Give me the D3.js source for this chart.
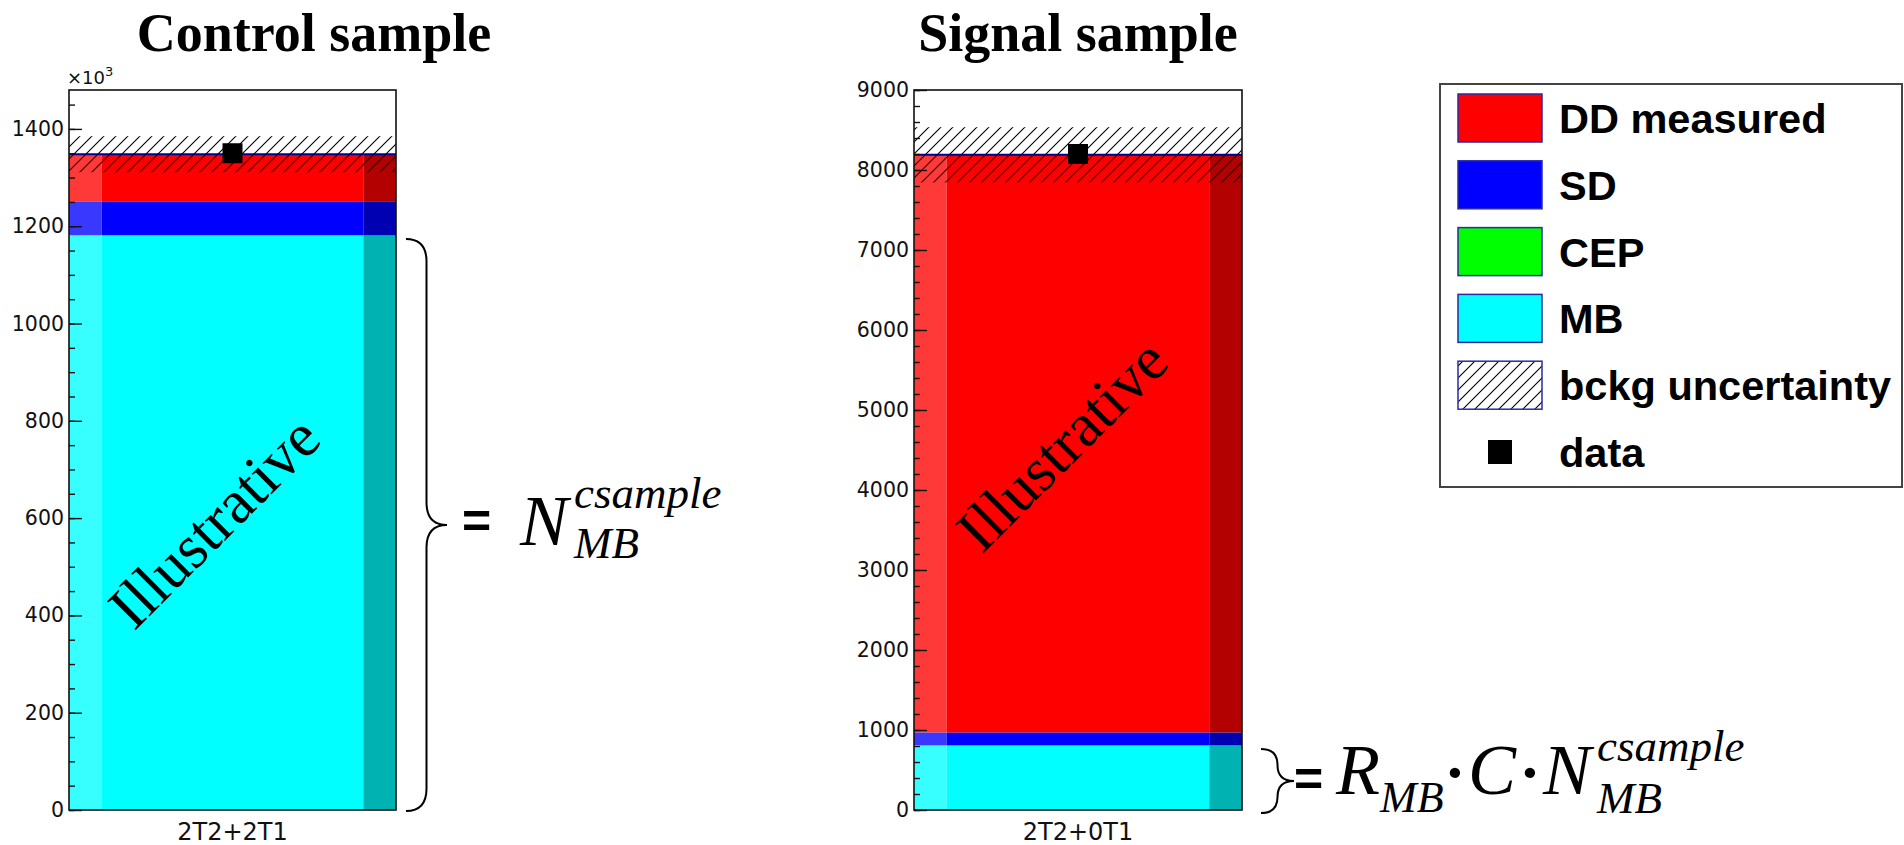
<!DOCTYPE html>
<html>
<head>
<meta charset="utf-8">
<script src="https://cdn.jsdelivr.net/npm/d3@7"></script>
<style>
  body { margin: 0; background: #fff; }
  svg { display: block; }
</style>
</head>
<body>
<div id="chart"></div>
<script>
// ---- data ----
const panelTitles = ["Control sample", "Signal sample"];
const categories = ["2T2+2T1", "2T2+0T1"];
// stacked components (control panel in units of 10^3)
const mbValues = [1180, 800];
const cepValues = [2, 10];
const sdValues = [68, 160];
const ddValues = [98, 7220];
const dataValues = [1350, 8200];
const bkgErrValues = [37, 345];
const yMaxValues = [1480, 9000];
const controlTicks = [0, 200, 400, 600, 800, 1000, 1200, 1400];
const signalTicks = [0, 1000, 2000, 3000, 4000, 5000, 6000, 7000, 8000, 9000];
const minorSteps = [50, 200];
const legendLabels = ["DD measured", "SD", "CEP", "MB", "bckg uncertainty", "data"];
const stackKeys = ["MB", "CEP", "SD", "DD"];
const stackColors = {MB: "#00ffff", CEP: "#00ff00", SD: "#0000ff", DD: "#ff0000"};

const W = 1904, H = 845;
const svg = d3.select("#chart").append("svg")
    .attr("width", W)
    .attr("height", H);
svg.append("rect").attr("width", W).attr("height", H).attr("fill", "#fff");

// hatch pattern
const defs = svg.append("defs");
const pat = defs.append("pattern")
    .attr("id", "hatch")
    .attr("patternUnits", "userSpaceOnUse")
    .attr("width", 12).attr("height", 12);
pat.append("path")
    .attr("d", "M-3,3 L3,-3 M0,12 L12,0 M9,15 L15,9")
    .attr("stroke", "#000")
    .attr("stroke-width", 1.1);

// layout of the two frames
const frames = [
    {left: 69, right: 396, top: 90, bottom: 810, titleX: 314, ticks: controlTicks},
    {left: 914, right: 1242, top: 90, bottom: 810, titleX: 1078, ticks: signalTicks}
];
const illustrativePos = [[214, 522], [1062, 445]];

function lighter(c) { return d3.interpolateRgb(c, "#fff")(0.22); }
function darker(c) { return d3.rgb(c).darker(1).formatHex(); }

const yScales = [];

frames.forEach((f, i) => {
    const g = svg.append("g");
    const y = d3.scaleLinear().domain([0, yMaxValues[i]]).range([f.bottom, f.top]);
    const x = d3.scaleBand().domain([categories[i]]).range([f.left, f.right]).padding(0);
    yScales.push(y);

    const row = {MB: mbValues[i], CEP: cepValues[i], SD: sdValues[i], DD: ddValues[i]};
    const series = d3.stack().keys(stackKeys)([row]);
    const bw = x.bandwidth();
    const x0 = x(categories[i]);

    series.forEach(s => {
        const d = s[0];
        const c = stackColors[s.key];
        const yt = y(d[1]), yb = y(d[0]);
        // ROOT style bar: light left strip, plain body, dark right strip
        g.append("rect").attr("x", x0).attr("y", yt).attr("width", bw * 0.1).attr("height", yb - yt)
            .attr("fill", lighter(c));
        g.append("rect").attr("x", x0 + bw * 0.1).attr("y", yt).attr("width", bw * 0.8).attr("height", yb - yt)
            .attr("fill", c);
        g.append("rect").attr("x", x0 + bw * 0.9).attr("y", yt).attr("width", bw * 0.1).attr("height", yb - yt)
            .attr("fill", darker(c));
    });

    const total = mbValues[i] + cepValues[i] + sdValues[i] + ddValues[i];
    // stack top line
    g.append("line")
        .attr("x1", x0).attr("x2", x0 + bw)
        .attr("y1", y(total)).attr("y2", y(total))
        .attr("stroke", "#000099").attr("stroke-width", 2);

    // background uncertainty band
    g.append("rect")
        .attr("x", x0).attr("width", bw)
        .attr("y", y(total + bkgErrValues[i]))
        .attr("height", y(total - bkgErrValues[i]) - y(total + bkgErrValues[i]))
        .attr("fill", "url(#hatch)");

    // data point
    const ms = 20;
    g.append("rect")
        .attr("x", x0 + bw / 2 - ms / 2)
        .attr("y", y(dataValues[i]) - ms / 2)
        .attr("width", ms).attr("height", ms)
        .attr("fill", "#000");

    // Illustrative watermark
    g.append("text")
        .attr("transform", "translate(" + illustrativePos[i][0] + "," + illustrativePos[i][1] + ") rotate(-45)")
        .attr("text-anchor", "middle")
        .attr("y", 21)
        .attr("font-family", "'Liberation Serif', 'Times New Roman', serif")
        .attr("font-size", 62)
        .text("Illustrative");

    // frame
    g.append("rect")
        .attr("x", f.left).attr("y", f.top)
        .attr("width", f.right - f.left).attr("height", f.bottom - f.top)
        .attr("fill", "none").attr("stroke", "#111").attr("stroke-width", 1.6);

    // y axis: major + minor ticks inside the frame
    const minor = d3.range(0, yMaxValues[i] + 1e-9, minorSteps[i]);
    const minorAx = g.append("g").attr("transform", "translate(" + f.left + ",0)")
        .call(d3.axisLeft(y).tickValues(minor).tickSize(-6).tickFormat(""));
    minorAx.select(".domain").remove();
    const majorAx = g.append("g").attr("transform", "translate(" + f.left + ",0)")
        .call(d3.axisLeft(y).tickValues(f.ticks).tickSize(-13).tickPadding(5).tickFormat(d3.format("d")));
    majorAx.select(".domain").remove();
    g.selectAll(".tick line").attr("stroke", "#111").attr("stroke-width", 1.4);
    majorAx.selectAll("text")
        .attr("font-family", "'DejaVu Sans', sans-serif")
        .attr("font-size", 20.5)
        .attr("fill", "#111");

    // x axis label
    const xAx = g.append("g").attr("transform", "translate(0," + f.bottom + ")")
        .call(d3.axisBottom(x).tickSize(0).tickPadding(13));
    xAx.select(".domain").remove();
    xAx.selectAll("text")
        .attr("font-family", "'DejaVu Sans', sans-serif")
        .attr("font-size", 24)
        .attr("fill", "#111");

    // panel title
    svg.append("text")
        .attr("x", f.titleX).attr("y", 51)
        .attr("text-anchor", "middle")
        .attr("font-family", "'Liberation Serif', 'Times New Roman', serif")
        .attr("font-weight", "bold")
        .attr("font-size", 54)
        .text(panelTitles[i]);
});

// x10^3 exponent label on the control axis
const expo = svg.append("text")
    .attr("x", 67).attr("y", 84)
    .attr("font-family", "'DejaVu Sans', sans-serif")
    .attr("font-size", 18)
    .attr("fill", "#111");
expo.append("tspan").text("\u00d710");
expo.append("tspan").attr("dy", -8).attr("font-size", 13).text("3");

// ---- braces + formulas ----
function bracePath(x0, yTop, yBot, w) {
    const mid = (yTop + yBot) / 2;
    const xv = x0 + w / 2;
    const r = Math.min(w / 2 + 2, (yBot - yTop) / 4);
    return "M" + x0 + "," + yTop +
        " Q" + xv + "," + yTop + " " + xv + "," + (yTop + r) +
        " L" + xv + "," + (mid - r) +
        " Q" + xv + "," + mid + " " + (x0 + w) + "," + mid +
        " Q" + xv + "," + mid + " " + xv + "," + (mid + r) +
        " L" + xv + "," + (yBot - r) +
        " Q" + xv + "," + yBot + " " + x0 + "," + yBot;
}
svg.append("path")
    .attr("d", bracePath(406, yScales[0](mbValues[0]) + 3, yScales[0](0) + 1, 41))
    .attr("fill", "none").attr("stroke", "#000").attr("stroke-width", 2);
svg.append("path")
    .attr("d", bracePath(1261, yScales[1](mbValues[1]) + 3, yScales[1](0) + 3, 33))
    .attr("fill", "none").attr("stroke", "#000").attr("stroke-width", 2);

const serif = "'Liberation Serif', 'Times New Roman', serif";
const sans = "'Liberation Sans', Arial, sans-serif";
// each formula is one text; pieces: [string, x, y, size, kind]
function formula(parts) {
    const t = svg.append("text").attr("font-family", serif);
    parts.forEach(p => {
        const sp = t.append("tspan")
            .attr("x", p[1]).attr("y", p[2])
            .attr("font-size", p[3])
            .text(p[0]);
        if (p[4] === "eq") sp.attr("font-family", sans).attr("font-weight", "bold");
        else if (p[4] === "dot") sp.attr("font-weight", "bold").attr("text-anchor", "middle");
        else sp.attr("font-style", "italic");
    });
}

formula([
    ["=", 462, 538, 50, "eq"],
    ["N", 520, 545, 72, "it"],
    ["csample", 574, 508, 45, "it"],
    ["MB", 574, 558, 45, "it"]
]);

formula([
    ["=", 1294, 796, 50, "eq"],
    ["R", 1336, 794, 72, "it"],
    ["MB", 1380, 812, 44, "it"],
    ["\u00b7", 1455, 794, 64, "dot"],
    ["C", 1468, 794, 72, "it"],
    ["\u00b7", 1530, 794, 64, "dot"],
    ["N", 1543, 794, 72, "it"],
    ["csample", 1597, 761, 45, "it"],
    ["MB", 1597, 813, 45, "it"]
]);

// ---- legend ----
const leg = svg.append("g");
leg.append("rect")
    .attr("x", 1440).attr("y", 84).attr("width", 462).attr("height", 403)
    .attr("fill", "#fff").attr("stroke", "#444").attr("stroke-width", 2);
const legRow = d3.scalePoint().domain(legendLabels).range([118, 452]);
legendLabels.forEach((lab, k) => {
    const cy = legRow(lab);
    if (k < 4) {
        const key = ["DD", "SD", "CEP", "MB"][k];
        leg.append("rect")
            .attr("x", 1458).attr("y", cy - 24).attr("width", 84).attr("height", 48)
            .attr("fill", stackColors[key]).attr("stroke", "#2a2aa8").attr("stroke-width", 1.5);
    } else if (k === 4) {
        leg.append("rect")
            .attr("x", 1458).attr("y", cy - 24).attr("width", 84).attr("height", 48)
            .attr("fill", "#fff");
        leg.append("rect")
            .attr("x", 1458).attr("y", cy - 24).attr("width", 84).attr("height", 48)
            .attr("fill", "url(#hatch)").attr("stroke", "#2a2aa8").attr("stroke-width", 1.5);
    } else {
        leg.append("rect")
            .attr("x", 1488).attr("y", cy - 12).attr("width", 24).attr("height", 24)
            .attr("fill", "#000");
    }
    leg.append("text")
        .attr("x", 1559).attr("y", cy + 15)
        .attr("font-family", sans)
        .attr("font-weight", "bold")
        .attr("font-size", 41.5)
        .text(lab);
});
</script>
</body>
</html>
